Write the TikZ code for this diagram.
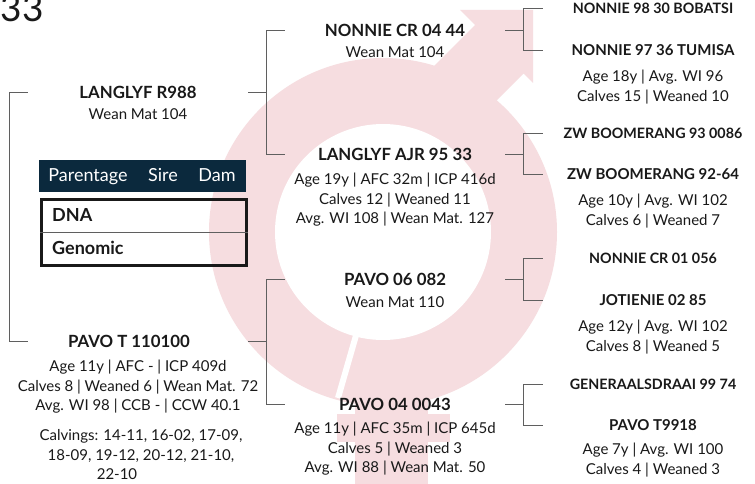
\documentclass[tikz,border=0pt]{standalone}
\usepackage{fontspec}
\setmainfont{Lato}
\definecolor{symbolpink}{RGB}{246,221,224}
\definecolor{headnavy}{RGB}{11,41,61}
\definecolor{bracketgray}{RGB}{95,95,95}
\definecolor{textdark}{RGB}{25,25,25}
\begin{document}
\begin{tikzpicture}[x=1pt, y=-1pt,
    animal/.style={font=\bfseries\fontsize{16.8}{20}\selectfont, text=textdark, minimum width=220pt, inner sep=0pt},
    sirethree/.style={animal, font=\bfseries\fontsize{14.3}{17}\selectfont},
    damthree/.style={animal, font=\bfseries\fontsize{15}{18}\selectfont},
    stats/.style={font=\fontsize{15}{19.5}\selectfont, text=textdark, align=center, inner sep=0pt},
    bracket/.style={draw=bracketgray, line width=0.9pt},
    headcell/.style={font=\fontsize{18}{21}\selectfont, text=white, inner sep=0pt, anchor=base},
    rowcell/.style={font=\bfseries\fontsize{18}{21}\selectfont, text=textdark, inner sep=0pt, anchor=base west}]
    \useasboundingbox[fill=white] (0,0) rectangle (755,484);
    % background symbol
    \fill[symbolpink] (383,232) circle[radius=174pt];
    \fill[symbolpink] (400,100) -- (475,25) -- (460,10) -- (533,10) -- (533,83) -- (523.5,73.5) -- (448.5,148.5) -- cycle;
    \fill[white] (383,232) circle[radius=108pt];
    \draw[white, line width=6pt] (357,332) -- (338,398);
    \fill[symbolpink] (355,385) rectangle (428,490);
    \fill[symbolpink] (337,414) rectangle (450,442);
    \node[font=\fontsize{37}{42}\selectfont, text=textdark, inner sep=0pt, anchor=base east] (title) at (44,22) {033};
    % first generation
    \node[animal] (r988) at (138,92) {LANGLYF R988};
    \node[stats] (r988stats) at (138,114) {Wean Mat 104};
    \node[animal] (t110100) at (138,341) {PAVO T 110100\hspace*{18pt}};
    \node[stats] (t110100stats) at (138,387) {Age 11y | AFC - | ICP 409d\\Calves 8 | Weaned 6 | Wean Mat. 72\\Avg. WI 98 | CCB - | CCW 40.1};
    \node[stats] (calvings) at (141,455) {Calvings: 14-11, 16-02, 17-09,\\18-09, 19-12, 20-12, 21-10,\\22-10\hspace*{48pt}};
    % second generation
    \node[animal] (cr0444) at (395,30) {NONNIE CR 04 44};
    \node[stats] (cr0444stats) at (395,52) {Wean Mat 104};
    \node[animal] (ajr9533) at (395,154) {LANGLYF AJR 95 33};
    \node[stats] (ajr9533stats) at (395,200) {Age 19y | AFC 32m | ICP 416d\\Calves 12 | Weaned 11\\Avg. WI 108 | Wean Mat. 127};
    \node[animal] (p06082) at (395,279) {PAVO 06 082};
    \node[stats] (p06082stats) at (395,302) {Wean Mat 110};
    \node[animal] (p040043) at (395,404) {PAVO 04 0043};
    \node[stats] (p040043stats) at (395,449) {Age 11y | AFC 35m | ICP 645d\\Calves 5 | Weaned 3\\Avg. WI 88 | Wean Mat. 50};
    % third generation
    \node[sirethree] (bobatsi) at (653,8) {NONNIE 98 30 BOBATSI};
    \node[damthree] (tumisa) at (653,50) {NONNIE 97 36 TUMISA};
    \node[stats] (tumisastats) at (653,87) {Age 18y | Avg. WI 96\\Calves 15 | Weaned 10};
    \node[sirethree] (zw0086) at (653,133) {ZW BOOMERANG 93 0086};
    \node[damthree] (zw9264) at (653,174) {ZW BOOMERANG 92-64};
    \node[stats] (zw9264stats) at (653,211) {Age 10y | Avg. WI 102\\Calves 6 | Weaned 7};
    \node[sirethree] (cr01056) at (653,258) {NONNIE CR 01 056};
    \node[damthree] (j0285) at (653,300) {JOTIENIE 02 85};
    \node[stats] (j0285stats) at (653,337) {Age 12y | Avg. WI 102\\Calves 8 | Weaned 5};
    \node[sirethree] (gen9974) at (653,384) {GENERAALSDRAAI 99 74};
    \node[damthree] (t9918) at (653,425) {PAVO T9918};
    \node[stats] (t9918stats) at (653,460) {Age 7y | Avg. WI 100\\Calves 4 | Weaned 3};
    % brackets
    \draw[bracket] (r988.west) -- ++(-18,0) |- (t110100.west);
    \draw[bracket] (r988.east) -- ++(19,0);
    \draw[bracket] (t110100.east) -- ++(19,0);
    \draw[bracket] (cr0444.west) -- ++(-18,0) |- (ajr9533.west);
    \draw[bracket] (p06082.west) -- ++(-18,0) |- (p040043.west);
    \draw[bracket] (cr0444.east) -- ++(19,0);
    \draw[bracket] (ajr9533.east) -- ++(19,0);
    \draw[bracket] (p06082.east) -- ++(19,0);
    \draw[bracket] (p040043.east) -- ++(19,0);
    \draw[bracket] (bobatsi.west) -- ++(-19,0) |- (tumisa.west);
    \draw[bracket] (zw0086.west) -- ++(-19,0) |- (zw9264.west);
    \draw[bracket] (cr01056.west) -- ++(-19,0) |- (j0285.west);
    \draw[bracket] (gen9974.west) -- ++(-19,0) |- (t9918.west);
    % parentage table
    \node[fill=headnavy, minimum width=207pt, minimum height=32pt, inner sep=0pt, anchor=north west] (tablehead) at (39,160) {};
    \node[headcell] (parentage) at (88,182) {Parentage};
    \node[headcell] (sire) at (163,182) {Sire};
    \node[headcell] (dam) at (217,182) {Dam};
    \node[draw=textdark, line width=2.5pt, minimum width=205pt, minimum height=66pt, inner sep=0pt, anchor=north west] (tablebody) at (40,198) {};
    \draw[draw=bracketgray, line width=0.8pt] (tablebody.west) -- (tablebody.east);
    \node[rowcell] (dna) at (52,221) {DNA};
    \node[rowcell] (genomic) at (52,254) {Genomic};
\end{tikzpicture}
\end{document}
